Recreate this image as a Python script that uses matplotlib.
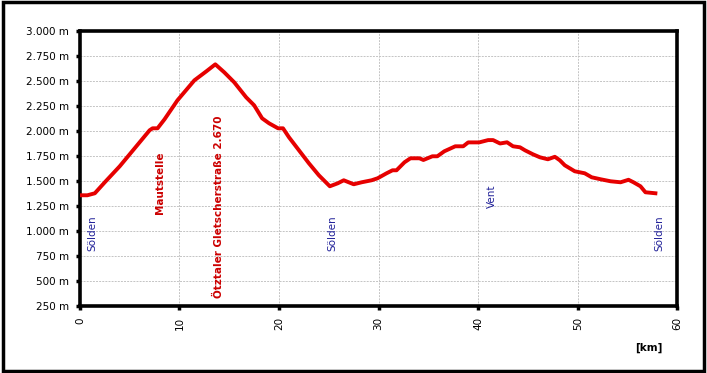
import matplotlib
matplotlib.use("Agg")
import matplotlib.pyplot as plt
from matplotlib.ticker import FuncFormatter, MultipleLocator
from matplotlib.patches import Rectangle

# elevation profile (km, m)
km = [0.0, 0.75, 1.5, 2.5, 4.0, 5.5, 7.0, 7.3, 7.8, 8.5, 9.8, 11.5, 12.7, 13.6,
      14.5, 15.5, 16.7, 17.5, 18.3, 19.0, 19.9, 20.4, 21.0, 22.0, 23.0, 24.0,
      25.1, 25.9, 26.5, 27.5, 28.3, 29.3, 29.9, 30.8, 31.4, 31.8, 32.6, 33.2,
      34.1, 34.5, 35.4, 35.9, 36.6, 37.7, 38.5, 39.0, 40.1, 41.0, 41.5, 42.2,
      42.9, 43.5, 44.2, 44.7, 45.5, 46.2, 47.0, 47.7, 48.2, 48.7, 49.7, 50.7,
      51.4, 52.3, 53.3, 54.3, 55.1, 55.6, 56.3, 56.8, 57.8]
elev = [1360, 1360, 1380, 1490, 1650, 1830, 2010, 2030, 2030, 2120, 2310, 2510,
        2600, 2670, 2590, 2490, 2340, 2260, 2130, 2080, 2030, 2030, 1940, 1810,
        1680, 1560, 1450, 1480, 1510, 1470, 1490, 1510, 1530, 1580, 1610, 1610,
        1690, 1730, 1730, 1713, 1750, 1750, 1800, 1850, 1850, 1889, 1889, 1912,
        1912, 1878, 1890, 1850, 1840, 1810, 1770, 1740, 1720, 1745, 1710, 1660,
        1600, 1580, 1540, 1520, 1500, 1490, 1515, 1490, 1450, 1390, 1380]

# waypoint labels
wp_names = ["Sölden", "Mautstelle", "Ötztaler Gletscherstraße 2.670", "Sölden", "Vent", "Sölden"]
wp_km = [1.25, 8.0, 14.0, 25.4, 41.4, 58.2]
wp_base = [800, 1170, 335, 800, 1235, 800]
wp_major = [False, True, True, False, False, False]

fig = plt.figure(figsize=(7.07, 3.73), dpi=100)
ax = fig.add_axes([0.113, 0.179, 0.845, 0.737])

ax.plot(km, elev, color="#e60000", linewidth=2.8, solid_joinstyle="round", zorder=3)

for name, x, y, major in zip(wp_names, wp_km, wp_base, wp_major):
    if major:
        ax.text(x, y, name, rotation=90, ha="center", va="bottom",
                color="#cc0000", fontsize=7.5, fontweight="bold", zorder=4)
    else:
        ax.text(x, y, name, rotation=90, ha="center", va="bottom",
                color="#222299", fontsize=7.5, zorder=4)

ax.set_xlim(0, 60)
ax.set_ylim(250, 3000)
ax.xaxis.set_major_locator(MultipleLocator(10))
ax.yaxis.set_major_locator(MultipleLocator(250))
ax.yaxis.set_major_formatter(FuncFormatter(lambda v, p: f"{int(v):,} m".replace(",", ".")))

ax.grid(True, color="#c4c4c4", linestyle=(0, (2, 1.2)), linewidth=0.7)
ax.set_axisbelow(True)
for s in ax.spines.values():
    s.set_linewidth(2.6)
ax.tick_params(axis="both", direction="out", length=3, width=2.5, labelsize=7.5, pad=5)
for lbl in ax.get_xticklabels():
    lbl.set_rotation(90)

fig.text(0.937, 0.06, "[km]", fontsize=7.5, fontweight="bold", ha="right")

fig.patches.append(Rectangle((0.004, 0.006), 0.992, 0.988, transform=fig.transFigure,
                             fill=False, edgecolor="black", linewidth=2.5))

fig.savefig("out.png", dpi=100)
